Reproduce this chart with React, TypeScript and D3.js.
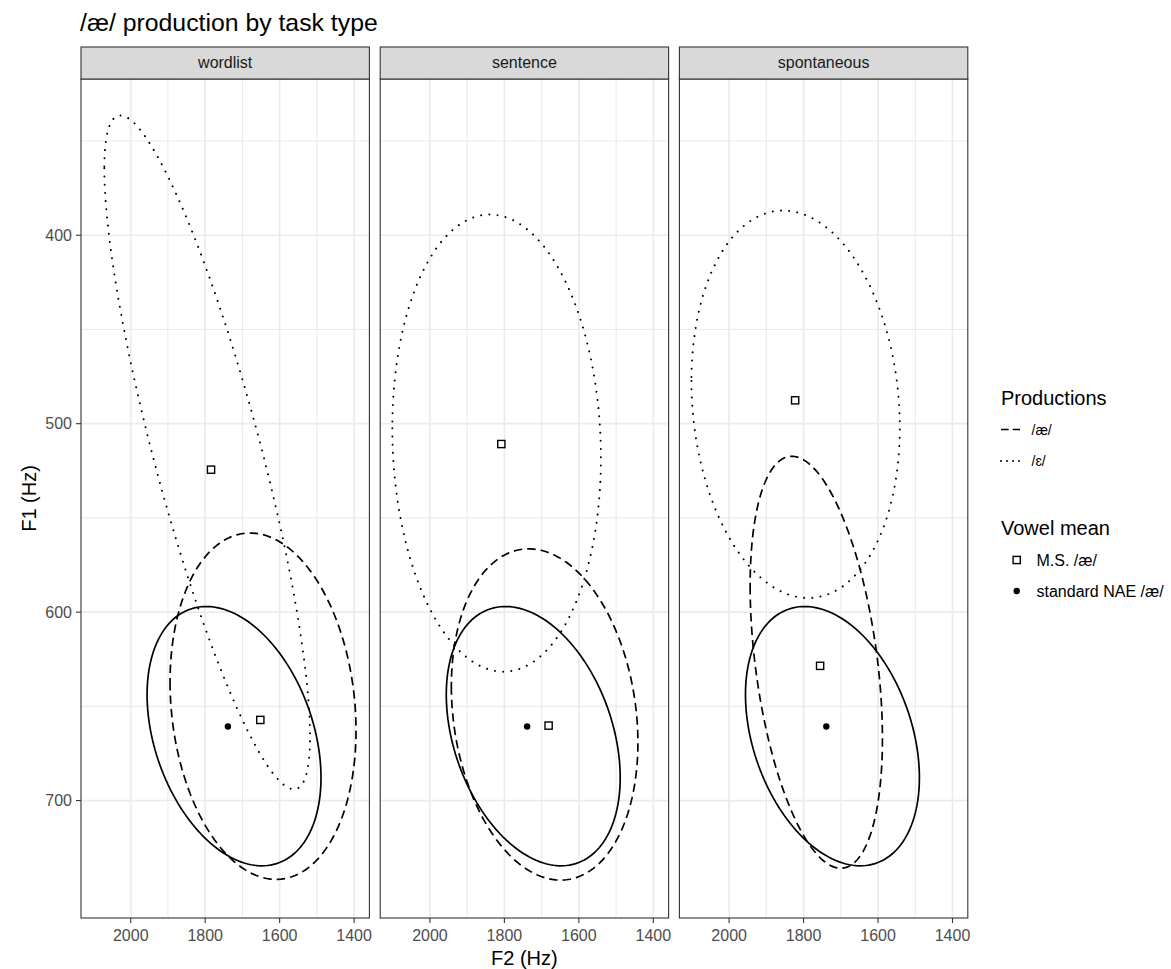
import React from "react";
import * as d3 from "d3";

// ---------- data ----------
const panels = ["wordlist", "sentence", "spontaneous"];

// M.S. /æ/ productions ellipse (dashed): centre, half-ranges, correlation
const aeCenterF2 = [1644.6, 1691.9, 1765.9];
const aeCenterF1 = [649.9, 654.3, 626.6];
const aeHalfF2 = [249.8, 250.6, 177.7];
const aeHalfF1 = [91.9, 87.9, 109.3];
const aeRho = [-0.14, -0.17, -0.37];

// M.S. /ɛ/ productions ellipse (dotted)
const ehCenterF2 = [1794.7, 1820.9, 1821.4];
const ehCenterF1 = [515.2, 510.3, 489.7];
const ehHalfF2 = [276.3, 280.2, 279.9];
const ehHalfF1 = [178.8, 121.3, 102.8];
const ehRho = [-0.843, -0.065, -0.12];

// standard NAE /æ/ ellipse (solid), same in every panel
const stdCenterF2 = 1722.5;
const stdCenterF1 = 665.8;
const stdHalfF2 = 233.6;
const stdHalfF1 = 68.8;
const stdRho = -0.32;

// vowel means
const msAeMeanF2 = [1651.9, 1681.2, 1755.6];
const msAeMeanF1 = [657.2, 660.2, 628.5];
const msEhMeanF2 = [1784.3, 1808.2, 1822.7];
const msEhMeanF1 = [524.4, 510.8, 487.6];
const stdMeanF2 = 1739;
const stdMeanF1 = 660.7;

const xMajor = [2000, 1800, 1600, 1400];
const xMinor = [1900, 1700, 1500];
const yMajor = [400, 500, 600, 700];
const yMinor = [350, 450, 550, 650];

const productionLabels = ["/æ/", "/ɛ/"];
const meanLabels = ["M.S. /æ/", "standard NAE /æ/"];

// ---------- layout ----------
const W = 1171;
const H = 969;
const panelLeft0 = 81;
const panelW = 288.4;
const panelStep = 299.2;
const panelTop = 79;
const panelBottom = 918;
const stripTop = 47;
const FONT = "'Liberation Sans', Arial, Helvetica, sans-serif";

const x = d3.scaleLinear().domain([2133.6, 1358.9]).range([0, panelW]);
const y = d3.scaleLinear().domain([317.1, 762.3]).range([panelTop, panelBottom]);

function ellipse(cx: number, cy: number, ax: number, ay: number, rho: number, n = 160) {
  const s = Math.sqrt(1 - rho * rho);
  return d3.range(n + 1).map((i) => {
    const t = (2 * Math.PI * i) / n;
    return [cx + ax * Math.cos(t), cy + ay * (rho * Math.cos(t) + s * Math.sin(t))] as [number, number];
  });
}

const line = d3
  .line<[number, number]>()
  .x((d) => x(d[0]))
  .y((d) => y(d[1]));

function Panel({ i }: { i: number }) {
  const left = panelLeft0 + i * panelStep;
  const grid = "#EBEBEB";
  return (
    <g transform={`translate(${left},0)`}>
      <rect x={0} y={panelTop} width={panelW} height={panelBottom - panelTop} fill="#fff" />
      {yMinor.map((v) => (
        <line key={"ym" + v} x1={0} x2={panelW} y1={y(v)} y2={y(v)} stroke={grid} strokeWidth={1.1} />
      ))}
      {xMinor.map((v) => (
        <line key={"xm" + v} x1={x(v)} x2={x(v)} y1={panelTop} y2={panelBottom} stroke={grid} strokeWidth={1.1} />
      ))}
      {yMajor.map((v) => (
        <line key={"yM" + v} x1={0} x2={panelW} y1={y(v)} y2={y(v)} stroke={grid} strokeWidth={1.7} />
      ))}
      {xMajor.map((v) => (
        <line key={"xM" + v} x1={x(v)} x2={x(v)} y1={panelTop} y2={panelBottom} stroke={grid} strokeWidth={1.7} />
      ))}
      <g clipPath={`url(#clip${i})`}>
        <path
          d={line(ellipse(ehCenterF2[i], ehCenterF1[i], ehHalfF2[i], ehHalfF1[i], ehRho[i])) || ""}
          fill="none"
          stroke="#000"
          strokeWidth={2}
          strokeLinecap="round"
          strokeDasharray="0.01 8.2"
        />
        <path
          d={line(ellipse(aeCenterF2[i], aeCenterF1[i], aeHalfF2[i], aeHalfF1[i], aeRho[i])) || ""}
          fill="none"
          stroke="#000"
          strokeWidth={1.7}
          strokeDasharray="8.5 5"
        />
        <path
          d={line(ellipse(stdCenterF2, stdCenterF1, stdHalfF2, stdHalfF1, stdRho)) || ""}
          fill="none"
          stroke="#000"
          strokeWidth={1.7}
        />
        <rect
          x={x(msEhMeanF2[i]) - 3.6}
          y={y(msEhMeanF1[i]) - 3.6}
          width={7.2}
          height={7.2}
          fill="#fff"
          stroke="#000"
          strokeWidth={1.4}
        />
        <rect
          x={x(msAeMeanF2[i]) - 3.6}
          y={y(msAeMeanF1[i]) - 3.6}
          width={7.2}
          height={7.2}
          fill="#fff"
          stroke="#000"
          strokeWidth={1.4}
        />
        <circle cx={x(stdMeanF2)} cy={y(stdMeanF1)} r={3.2} fill="#000" />
      </g>
      <rect
        x={0}
        y={panelTop}
        width={panelW}
        height={panelBottom - panelTop}
        fill="none"
        stroke="#333"
        strokeWidth={1.1}
      />
      {/* strip */}
      <rect x={0} y={stripTop} width={panelW} height={panelTop - stripTop} fill="#D9D9D9" stroke="#333" strokeWidth={1.1} />
      <text x={panelW / 2} y={68} textAnchor="middle" fontSize={16} fill="#1A1A1A" fontFamily={FONT}>
        {panels[i]}
      </text>
      {/* x axis */}
      {xMajor.map((v) => (
        <g key={"xt" + v}>
          <line x1={x(v)} x2={x(v)} y1={panelBottom} y2={panelBottom + 5} stroke="#333" strokeWidth={1.1} />
          <text x={x(v)} y={941} textAnchor="middle" fontSize={16} fill="#4D4D4D" fontFamily={FONT}>
            {v}
          </text>
        </g>
      ))}
    </g>
  );
}

export default function App() {
  return (
    <svg
      width={W}
      height={H}
      style={{ position: "absolute", left: 0, top: 0, background: "#fff" }}
      fontFamily={FONT}
    >
      <defs>
        {panels.map((p, i) => (
          <clipPath id={`clip${i}`} key={p}>
            <rect x={0} y={panelTop} width={panelW} height={panelBottom - panelTop} />
          </clipPath>
        ))}
      </defs>
      <rect width={W} height={H} fill="#fff" />
      <text x={80} y={31} fontSize={24.8} fill="#000">
        /æ/ production by task type
      </text>
      {panels.map((p, i) => (
        <Panel key={p} i={i} />
      ))}
      {/* y axis */}
      {yMajor.map((v) => (
        <g key={"yt" + v}>
          <line x1={panelLeft0 - 5} x2={panelLeft0} y1={y(v)} y2={y(v)} stroke="#333" strokeWidth={1.1} />
          <text x={panelLeft0 - 9} y={y(v) + 5.7} textAnchor="end" fontSize={16} fill="#4D4D4D">
            {v}
          </text>
        </g>
      ))}
      <text
        transform={`translate(36,${(panelTop + panelBottom) / 2}) rotate(-90)`}
        textAnchor="middle"
        fontSize={20}
        fill="#000"
      >
        F1 (Hz)
      </text>
      <text x={panelLeft0 + (2 * panelStep + panelW) / 2} y={965} textAnchor="middle" fontSize={20} fill="#000">
        F2 (Hz)
      </text>
      {/* legend: Productions */}
      <text x={1001} y={405} fontSize={20} fill="#000">
        Productions
      </text>
      <line x1={1001} x2={1020} y1={429.5} y2={429.5} stroke="#000" strokeWidth={1.7} strokeDasharray="7.7 4" />
      <text x={1031.5} y={434.5} fontSize={14} fill="#000">
        {productionLabels[0]}
      </text>
      <line
        x1={1001}
        x2={1020}
        y1={461}
        y2={461}
        stroke="#000"
        strokeWidth={2}
        strokeLinecap="round"
        strokeDasharray="0.01 6"
      />
      <text x={1031.5} y={466} fontSize={14} fill="#000">
        {productionLabels[1]}
      </text>
      {/* legend: Vowel mean */}
      <text x={1001} y={535} fontSize={20} fill="#000">
        Vowel mean
      </text>
      <rect x={1016.7 - 3.6} y={560 - 3.6} width={7.2} height={7.2} fill="#fff" stroke="#000" strokeWidth={1.4} />
      <text x={1036.5} y={565.5} fontSize={16} fill="#000">
        {meanLabels[0]}
      </text>
      <circle cx={1016.7} cy={591} r={3.2} fill="#000" />
      <text x={1036.5} y={596.5} fontSize={16} fill="#000">
        {meanLabels[1]}
      </text>
    </svg>
  );
}
